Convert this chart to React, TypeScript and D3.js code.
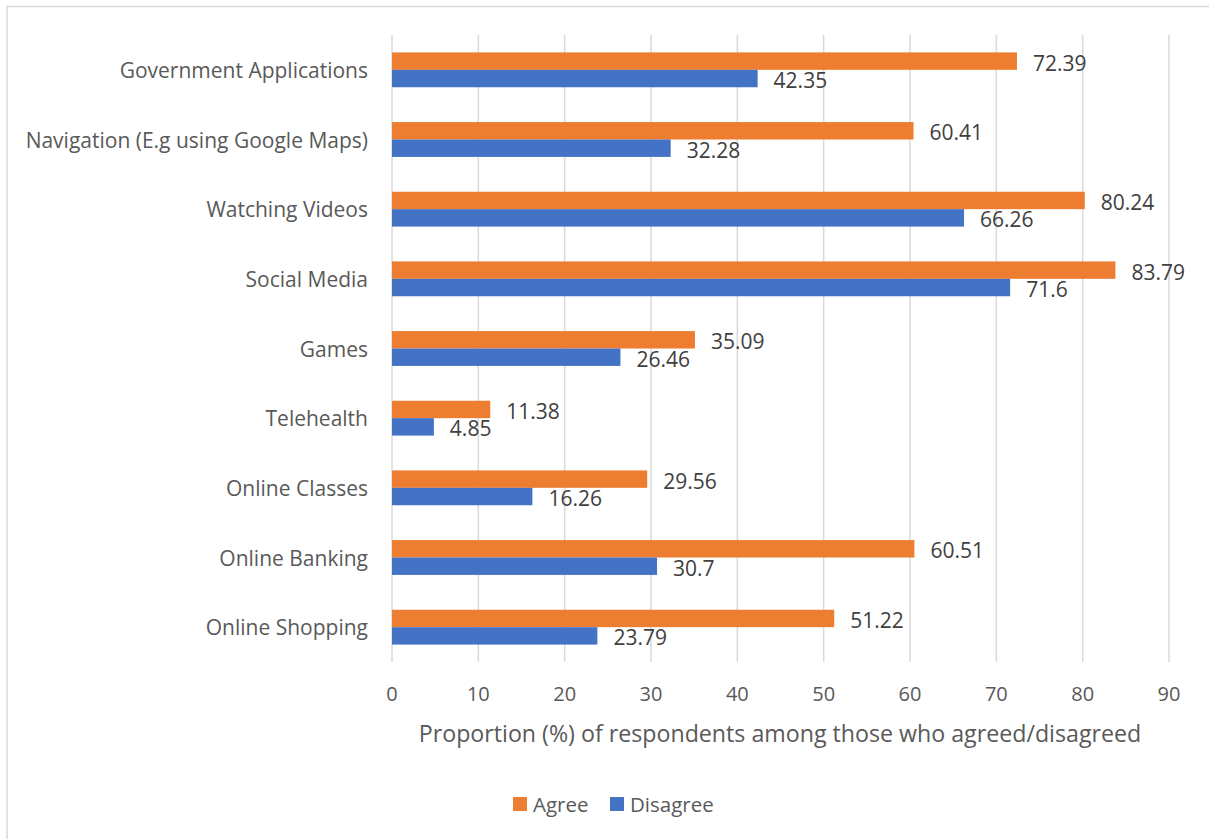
import React from "react";
import * as d3 from "d3";

const categories = [
  "Government Applications",
  "Navigation (E.g using Google Maps)",
  "Watching Videos",
  "Social Media",
  "Games",
  "Telehealth",
  "Online Classes",
  "Online Banking",
  "Online Shopping",
];
const agree = [72.39, 60.41, 80.24, 83.79, 35.09, 11.38, 29.56, 60.51, 51.22];
const disagree = [42.35, 32.28, 66.26, 71.6, 26.46, 4.85, 16.26, 30.7, 23.79];
const xTicks = [0, 10, 20, 30, 40, 50, 60, 70, 80, 90];
const seriesNames = ["Agree", "Disagree"];
const colors = ["#ED7D31", "#4472C4"];

const W = 1209;
const H = 839;
const FONT = "'Open Sans', sans-serif";
const TXT = "#595959";

export default function App() {
  const x = d3.scaleLinear().domain([0, 90]).range([392, 1169]);
  const y = d3.scaleBand<string>().domain(categories).range([35, 662]).paddingInner(0.5).paddingOuter(0.25);
  const sub = d3.scaleBand<string>().domain(seriesNames).range([0, y.bandwidth()]);
  const series = [agree, disagree];
  const fmt = (v: number) => String(v);

  return (
    <svg width={W} height={H} style={{ position: "absolute", left: 0, top: 0, background: "#fff" }} fontFamily={FONT}>
      <rect x={7} y={6.5} width={W} height={H} fill="#fff" stroke="#d9d9d9" strokeWidth={1.5} />
      {xTicks.map((t) => (
        <line key={t} x1={x(t)} x2={x(t)} y1={35} y2={662} stroke="#d9d9d9" strokeWidth={1.5} />
      ))}
      {categories.map((c, i) => (
        <g key={c}>
          <text x={368} y={y(c)! + y.bandwidth() / 2} textAnchor="end" dominantBaseline="central" fontSize={21} fill={TXT}>
            {c}
          </text>
          {series.map((s, k) => (
            <g key={k}>
              <rect
                x={x(0)}
                y={y(c)! + sub(seriesNames[k])!}
                width={x(s[i]) - x(0)}
                height={sub.bandwidth()}
                fill={colors[k]}
              />
              <text
                x={x(s[i]) + 16}
                y={y(c)! + sub(seriesNames[k])! + sub.bandwidth() / 2 + 1.5}
                dominantBaseline="central"
                fontSize={21}
                fill="#404040"
              >
                {fmt(s[i])}
              </text>
            </g>
          ))}
        </g>
      ))}
      {xTicks.map((t) => (
        <text key={t} x={x(t)} y={693} textAnchor="middle" dominantBaseline="central" fontSize={20} fill={TXT}>
          {t}
        </text>
      ))}
      <text x={(418 + 1142) / 2} y={733} textAnchor="middle" dominantBaseline="central" fontSize={23.2} fill={TXT}>
        Proportion (%) of respondents among those who agreed/disagreed
      </text>
      <g>
        <rect x={513} y={797} width={14} height={14} fill={colors[0]} />
        <text x={533} y={804} dominantBaseline="central" fontSize={20.5} fill={TXT}>
          {seriesNames[0]}
        </text>
        <rect x={610} y={797} width={14} height={14} fill={colors[1]} />
        <text x={630} y={804} dominantBaseline="central" fontSize={20.5} fill={TXT}>
          {seriesNames[1]}
        </text>
      </g>
    </svg>
  );
}
